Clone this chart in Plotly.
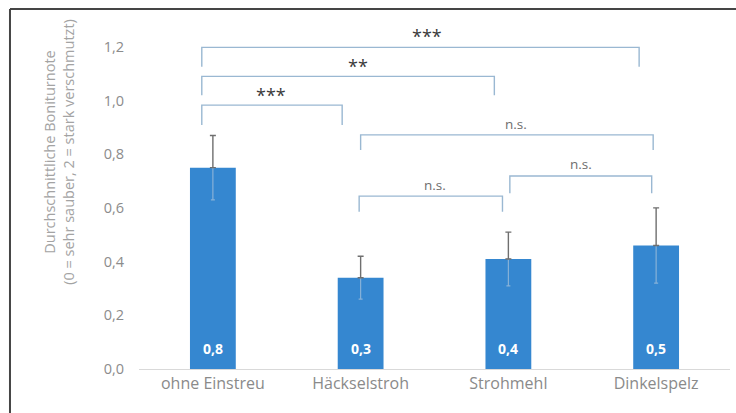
import plotly.graph_objects as go

# Mean scores per bedding type with error margins
categories = ["ohne Einstreu", "Häckselstroh", "Strohmehl", "Dinkelspelz"]
means = [0.75, 0.34, 0.41, 0.46]
errors = [0.12, 0.08, 0.10, 0.14]

# Significance brackets: left end, right end, bar height, leg bottom, label, label position
br_x0 = [-0.075, -0.075, -0.075, 1.00, 0.99, 2.01]
br_x1 = [2.885, 1.905, 0.875, 2.98, 1.96, 2.97]
br_top = [1.198, 1.09, 0.983, 0.872, 0.644, 0.719]
br_leg = [1.126, 1.02, 0.909, 0.816, 0.586, 0.655]
br_label = ["***", "**", "***", "n.s.", "n.s.", "n.s."]
br_label_x = [1.45, 0.98, 0.39, 2.05, 1.50, 2.49]
br_label_y = [1.24, 1.13, 1.02, 0.912, 0.686, 0.765]

y_ticks = [0.0, 0.2, 0.4, 0.6, 0.8, 1.0, 1.2]

FONT = "Open Sans, sans-serif"
BAR_BLUE = "#3587d0"
BRACKET = "#9ab8d2"

xs = list(range(len(categories)))

fig = go.Figure()

# Bars with the lower half of the error bar drawn faintly inside the bar
fig.add_trace(go.Bar(
    x=xs, y=means, width=0.31,
    marker=dict(color=BAR_BLUE, line=dict(width=0)),
    error_y=dict(type="data", symmetric=False, array=[0] * len(means),
                 arrayminus=errors, color="rgba(170,195,220,0.7)",
                 thickness=1.2, width=2),
    hoverinfo="skip", showlegend=False,
))

# Upper half of the error bar in gray
fig.add_trace(go.Bar(
    x=xs, y=means, width=0.31,
    marker=dict(color="rgba(0,0,0,0)", line=dict(width=0)),
    error_y=dict(type="data", symmetric=False, array=errors,
                 arrayminus=[0] * len(means), color="#6f6f6f",
                 thickness=1.4, width=3),
    hoverinfo="skip", showlegend=False,
))

# Value labels at the foot of each bar
for x, v in zip(xs, means):
    fig.add_annotation(
        x=x, y=0, xref="x", yref="y", yanchor="bottom", yshift=9,
        text="<b>" + f"{v:.1f}".replace(".", ",") + "</b>", showarrow=False,
        font=dict(family=FONT, size=14, color="white"),
    )

# Significance brackets
for x0, x1, yt, yl in zip(br_x0, br_x1, br_top, br_leg):
    fig.add_trace(go.Scatter(
        x=[x0, x0, x1, x1], y=[yl, yt, yt, yl], mode="lines",
        line=dict(color=BRACKET, width=1.4), hoverinfo="skip",
        showlegend=False, cliponaxis=False,
    ))

for lx, ly, lab in zip(br_label_x, br_label_y, br_label):
    stars = lab.startswith("*")
    fig.add_annotation(
        x=lx, y=ly, xref="x", yref="y", text=lab, showarrow=False,
        font=dict(family=FONT, size=18 if stars else 13.5,
                  color="#3a3a3a" if stars else "#6e6e6e"),
    )

# Axis title as a two-line rotated annotation
fig.add_annotation(
    x=-0.171, y=0.622, xref="paper", yref="paper", showarrow=False,
    text="Durchschnittliche Boniturnote<br>(0 = sehr sauber, 2 = stark verschmutzt)",
    textangle=-90, font=dict(family=FONT, size=14.5, color="#a3a3a3"),
)

# Outer frame on the top and left edges
frame = dict(type="line", xref="paper", yref="paper",
             line=dict(color="#454545", width=2))
fig.add_shape(**frame, x0=-0.2183, x1=1.02, y0=1.0315, y1=1.0315)
fig.add_shape(**frame, x0=-0.2183, x1=-0.2183, y0=1.0315, y1=-0.13)

fig.update_layout(
    width=736, height=413,
    margin=dict(l=139, r=6, t=20, b=44),
    paper_bgcolor="white", plot_bgcolor="white",
    barmode="overlay", separators=",.",
    font=dict(family=FONT, color="#8c8c8c"),
    xaxis=dict(
        range=[-0.5, 3.5], tickvals=xs, ticktext=categories,
        showline=True, linecolor="#d9d9d9", linewidth=1.2,
        showgrid=False, zeroline=False, ticks="",
        tickfont=dict(family=FONT, size=16, color="#8a8a8a"),
    ),
    yaxis=dict(
        range=[0, 1.3], tickvals=y_ticks, tickformat=".1f",
        showgrid=False, zeroline=False, showline=False, ticks="",
        ticklabelstandoff=14,
        tickfont=dict(family=FONT, size=14.5, color="#8c8c8c"),
    ),
)

fig.write_html("out.html")
